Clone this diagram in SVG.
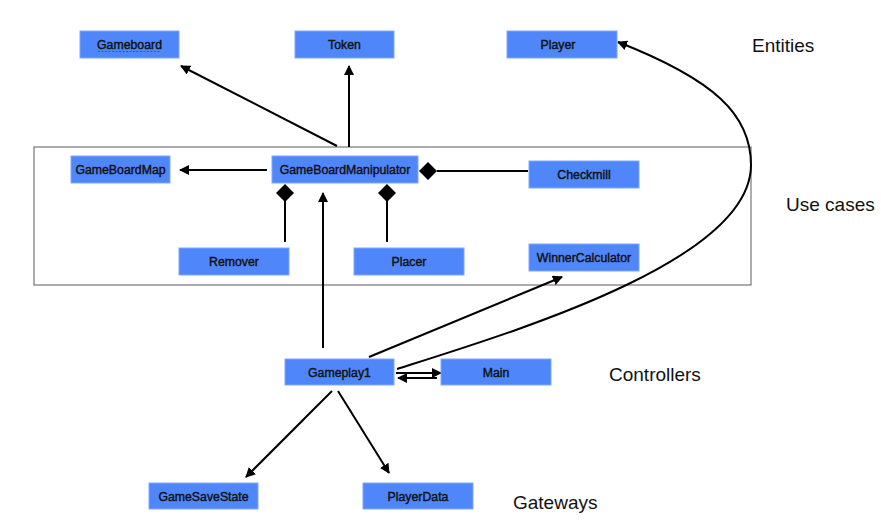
<svg xmlns="http://www.w3.org/2000/svg" width="881" height="522" viewBox="0 0 881 522">
<style>
.n rect{fill:#4f86f9;stroke:#7fa8ff;stroke-width:1}
.n text{font-family:"Liberation Sans",Arial,sans-serif;font-size:12.3px;fill:#111;stroke:#111;stroke-width:0.4;text-anchor:middle}
.lbl{font-family:"Liberation Sans",Arial,sans-serif;font-size:19px;fill:#111}
.c line,.c path{stroke:#000;stroke-width:2;fill:none}
</style>
<defs>
<marker id="a" viewBox="0 0 10 10" refX="9" refY="5" markerWidth="5" markerHeight="5" orient="auto" markerUnits="strokeWidth">
<path d="M0,0 L10,5 L0,10 z" fill="#000"/>
</marker>
</defs>
<rect x="34" y="147" width="717" height="138" fill="none" stroke="#777" stroke-width="1.2"/>
<g class="c">
<line x1="337" y1="146" x2="181" y2="66" marker-end="url(#a)"/>
<line x1="349" y1="147" x2="349" y2="66" marker-end="url(#a)"/>
<line x1="267" y1="170" x2="180" y2="170" marker-end="url(#a)"/>
<line x1="528" y1="171" x2="437" y2="171"/>
<path d="M419,171 L428,162 L437,171 L428,180 z" style="fill:#000;stroke:none"/>
<line x1="285" y1="242" x2="285" y2="201"/>
<path d="M285,184 L294,193 L285,202 L276,193 z" style="fill:#000;stroke:none"/>
<line x1="387" y1="242" x2="387" y2="201"/>
<path d="M387,184 L396,193 L387,202 L378,193 z" style="fill:#000;stroke:none"/>
<line x1="323" y1="348" x2="323" y2="193" marker-end="url(#a)"/>
<line x1="369" y1="357" x2="562" y2="277" marker-end="url(#a)"/>
<path d="M397,369 C520,330 751,260 751,165 C751,115 715,80 618,42" marker-end="url(#a)"/>
<line x1="396" y1="373" x2="441" y2="373" marker-end="url(#a)"/>
<line x1="437" y1="378" x2="398" y2="378" marker-end="url(#a)"/>
<line x1="332" y1="391" x2="246" y2="477" marker-end="url(#a)"/>
<line x1="338" y1="391" x2="389" y2="473" marker-end="url(#a)"/>
</g>
<g id="gameboard" class="n"><rect x="80" y="31" width="99" height="27"/><text x="129.5" y="49">Gameboard</text></g>
<line x1="98" y1="51.5" x2="160" y2="51.5" stroke="#e02020" stroke-width="1.2" stroke-dasharray="2,1.5"/>
<g id="token" class="n"><rect x="295" y="31" width="99" height="27"/><text x="344.5" y="49">Token</text></g>
<g id="player" class="n"><rect x="507" y="31" width="110" height="27"/><text x="558" y="49">Player</text></g>
<g id="gameboardmap" class="n"><rect x="71" y="156" width="99" height="27"/><text x="120.5" y="174">GameBoardMap</text></g>
<g id="gameboardmanipulator" class="n"><rect x="272" y="156" width="146" height="27"/><text x="345" y="174">GameBoardManipulator</text></g>
<g id="checkmill" class="n"><rect x="529" y="161" width="110" height="27"/><text x="584" y="179">Checkmill</text></g>
<g id="remover" class="n"><rect x="179" y="248" width="110" height="27"/><text x="234" y="266">Remover</text></g>
<g id="placer" class="n"><rect x="354" y="248" width="110" height="27"/><text x="409" y="266">Placer</text></g>
<g id="winnercalculator" class="n"><rect x="529" y="244" width="110" height="27"/><text x="584" y="262">WinnerCalculator</text></g>
<g id="gameplay1" class="n"><rect x="285" y="359" width="109" height="26"/><text x="339.5" y="376.5">Gameplay1</text></g>
<g id="main" class="n"><rect x="441" y="359" width="110" height="26"/><text x="496" y="376.5">Main</text></g>
<g id="gamesavestate" class="n"><rect x="149" y="483" width="109" height="26"/><text x="203.5" y="500.5">GameSaveState</text></g>
<g id="playerdata" class="n"><rect x="363" y="483" width="110" height="26"/><text x="418" y="500.5">PlayerData</text></g>
<text class="lbl" x="752" y="51.5">Entities</text>
<text class="lbl" x="786" y="211">Use cases</text>
<text class="lbl" x="609" y="381">Controllers</text>
<text class="lbl" x="513" y="509">Gateways</text>
</svg>
